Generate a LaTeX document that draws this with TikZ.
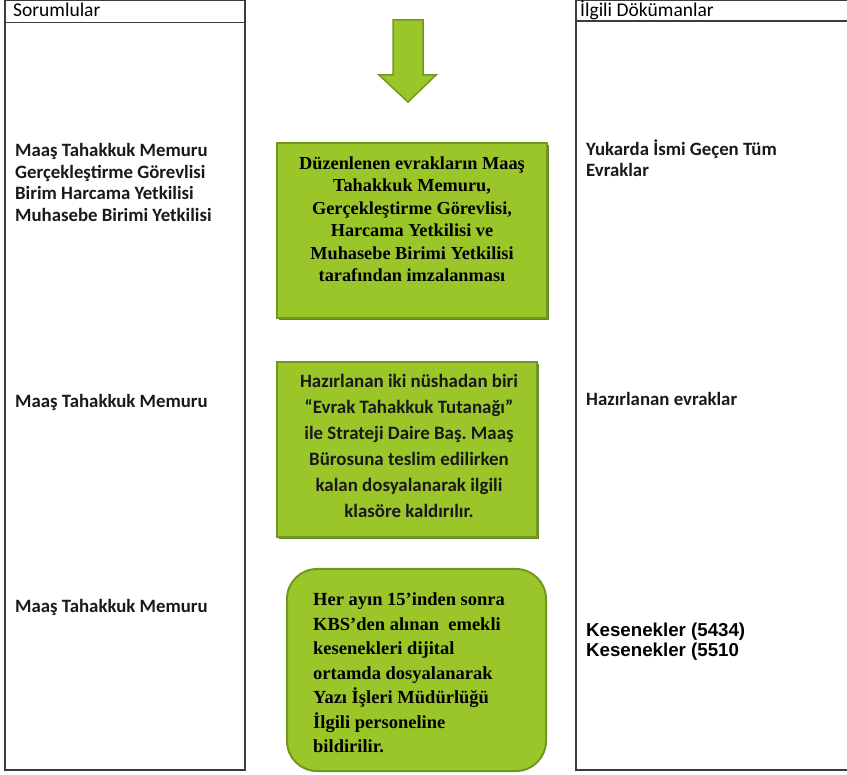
\documentclass[tikz,border=0pt]{standalone}
\usepackage{fontspec}
\setmainfont{Liberation Serif}
\newfontfamily\calfont{Carlito}
\newfontfamily\arifont{Liberation Sans}
\definecolor{gfill}{RGB}{155,198,42}
\definecolor{gline}{RGB}{112,152,32}
\definecolor{gshadow}{RGB}{100,138,30}
\definecolor{framec}{RGB}{60,60,60}
\definecolor{txtc}{RGB}{25,25,25}
\tikzset{
  colframe/.style={draw=framec, line width=1.3pt},
  gbox/.style={draw=gline, line width=2pt, fill=gfill, inner sep=0pt},
  gshadowbox/.style={fill=gshadow, draw=none, inner sep=0pt},
  serifbold/.style={font=\frenchspacing\bfseries\fontsize{18.3}{22.5}\selectfont, text=black, inner sep=0pt},
  sansbox/.style={font=\frenchspacing\calfont\bfseries\fontsize{18.9}{26}\selectfont, text=txtc, inner sep=0pt, align=center},
  sidetxt/.style={font=\calfont\bfseries\fontsize{18.8}{21.5}\selectfont, text=txtc, inner sep=0pt, align=flush left, text width=225pt, anchor=base west},
  headtxt/.style={font=\calfont\fontsize{19.5}{20}\selectfont, text=black, inner sep=0pt, anchor=base west},
  aritxt/.style={font=\arifont\bfseries\fontsize{18.7}{20.5}\selectfont, text=black, inner sep=0pt, align=flush left, text width=250pt, anchor=base west},
}
\begin{document}
\begin{tikzpicture}[x=1pt,y=-1pt]
\useasboundingbox (0,0) rectangle (847,775);
\begin{scope}
\clip (0,0) rectangle (847,775);
% columns
\draw[colframe] (5,0.6) rectangle (245,770);
\draw[colframe] (5,22.5) -- (245,22.5);
\draw[colframe] (849,0.6) -- (576,0.6) -- (576,770) -- (849,770);
\draw[colframe] (576,21) -- (849,21);
\end{scope}
% headers
\node[headtxt] (h1) at (13,17) {Sorumlular};
\node[headtxt] (h2) at (580,17) {İlgili Dökümanlar};
% arrow
\draw[gline, line width=1.5pt, fill=gfill, line join=miter]
  (393,20) -- (423,20) -- (423,75) -- (436,75) -- (408,102) -- (379,75) -- (393,75) -- cycle;
% box 1
\node[gshadowbox, minimum width=270pt, minimum height=175pt] (s1) at (414,232.5) {};
\node[gbox, minimum width=270pt, minimum height=175pt] (b1) at (412,230.5) {};
\node[serifbold, align=center] (t1) at (412,219) {Düzenlenen evrakların Maaş\\Tahakkuk Memuru,\\Gerçekleştirme Görevlisi,\\Harcama Yetkilisi ve\\Muhasebe Birimi Yetkilisi\\tarafından imzalanması};
% box 2
\node[gshadowbox, minimum width=260pt, minimum height=175pt] (s2) at (409,451.5) {};
\node[gbox, minimum width=260pt, minimum height=175pt] (b2) at (407,449.5) {};
\node[sansbox] (t2) at (409,446) {Hazırlanan iki nüshadan biri\\“Evrak Tahakkuk Tutanağı”\\ile Strateji Daire Baş. Maaş\\Bürosuna teslim edilirken\\kalan dosyalanarak ilgili\\klasöre kaldırılır.};
% box 3
\node[gbox, rounded corners=30pt, minimum width=259pt, minimum height=202pt] (b3) at (416.5,670) {};
\node[serifbold, align=flush left, text width=230pt, anchor=base west, font=\frenchspacing\bfseries\fontsize{18.5}{24.5}\selectfont] (t3) at (313,606) {Her ayın 15’inden sonra\\KBS’den alınan\ \ emekli\\kesenekleri dijital\\ortamda dosyalanarak\\Yazı İşleri Müdürlüğü\\İlgili personeline\\bildirilir.};
% left texts
\node[sidetxt] (l1) at (15,157) {Maaş Tahakkuk Memuru\\Gerçekleştirme Görevlisi\\Birim Harcama Yetkilisi\\Muhasebe Birimi Yetkilisi};
\node[sidetxt] (l2) at (15,408) {Maaş Tahakkuk Memuru};
\node[sidetxt] (l3) at (15,613) {Maaş Tahakkuk Memuru};
% right texts
\node[sidetxt, font=\calfont\bfseries\fontsize{18.8}{20.5}\selectfont] (r1) at (586,156) {Yukarda İsmi Geçen Tüm\\Evraklar};
\node[sidetxt] (r2) at (586,406) {Hazırlanan evraklar};
\node[aritxt] (r3) at (586,636.5) {Kesenekler (5434)\\Kesenekler (5510};
\end{tikzpicture}
\end{document}
